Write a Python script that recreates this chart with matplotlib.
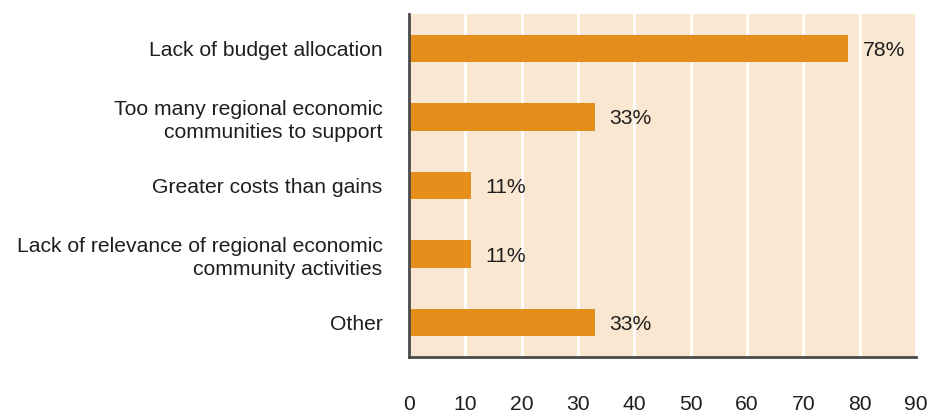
import matplotlib.pyplot as plt

plt.rcParams['font.family'] = ['Liberation Sans', 'DejaVu Sans']

# Data
categories = [
    'Lack of budget allocation',
    'Too many regional economic\ncommunities to support',
    'Greater costs than gains',
    'Lack of relevance of regional economic\ncommunity activities',
    'Other',
]
values = [78, 33, 11, 11, 33]
xticks = [0, 10, 20, 30, 40, 50, 60, 70, 80, 90]

bar_color = '#E58E1B'
bg_color = '#FAE7D1'
axis_color = '#4A4A4A'
text_color = '#1E1E1E'
fs = 15.2

fig = plt.figure(figsize=(9.32, 4.12), dpi=100)
ax = fig.add_axes([409 / 932, 1 - 357 / 412, (916 - 409) / 932, (357 - 14) / 412])

ypos = list(range(len(categories)))
ax.barh(ypos, values, height=0.4, color=bar_color, zorder=3)

for y, v in zip(ypos, values):
    ax.text(v + 2.5, y, f'{v}%', va='center_baseline', ha='left', fontsize=fs,
            color=text_color, zorder=4)

ax.set_facecolor(bg_color)
ax.set_xlim(0, 89.5)
ax.set_ylim(len(categories) - 0.5, -0.5)
ax.set_xticks(xticks)
ax.set_xticklabels([str(t) for t in xticks])
ax.set_yticks(ypos)
ax.set_yticklabels(categories, fontsize=fs, linespacing=1.25)
ax.tick_params(axis='y', length=0, pad=19, colors=text_color)
ax.tick_params(axis='x', length=0, pad=27, labelsize=fs, colors=text_color)

ax.grid(axis='x', color='white', linewidth=2, zorder=1)
ax.set_axisbelow(True)

for side in ['top', 'right']:
    ax.spines[side].set_visible(False)
for side in ['left', 'bottom']:
    ax.spines[side].set_color(axis_color)
    ax.spines[side].set_linewidth(2)
    ax.spines[side].set_zorder(5)

plt.savefig('out.png', dpi=100)
